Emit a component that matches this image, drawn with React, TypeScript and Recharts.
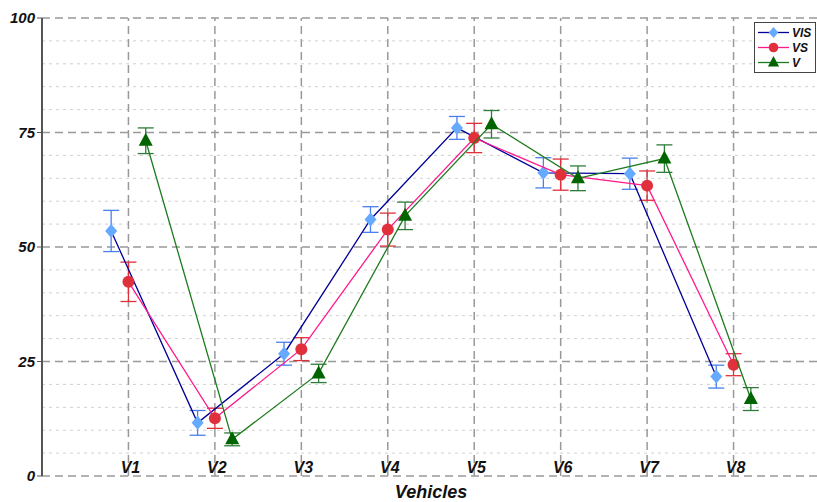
import React from 'react';
import { ComposedChart, Scatter, XAxis, YAxis, ErrorBar, ReferenceLine } from 'recharts';

const categories = ['V1', 'V2', 'V3', 'V4', 'V5', 'V6', 'V7', 'V8'];
const yTicks = [0, 25, 50, 75, 100];
const yMinor = [5, 10, 15, 20, 30, 35, 40, 45, 55, 60, 65, 70, 80, 85, 90, 95];

const visMean = [53.5, 11.6, 26.7, 56, 76, 66.2, 66, 21.7];
const visErr = [4.5, 2.7, 2.5, 2.8, 2.5, 3.3, 3.4, 2.5];
const vsMean = [42.4, 12.6, 27.7, 53.8, 73.8, 65.8, 63.4, 24.3];
const vsErr = [4.3, 2.2, 2.5, 3.6, 3.2, 3.4, 3.2, 2.4];
const vMean = [73.2, 8, 22.4, 56.8, 76.8, 65, 69.3, 16.8];
const vErr = [2.8, 1.4, 2, 3, 3, 2.7, 3, 2.5];

const FONT = '"Liberation Sans", Arial, sans-serif';

const build = (mean: number[], err: number[], shift: number) =>
  mean.map((y, i) => ({ x: i + 1 + shift, y, err: err[i] }));

const visData = build(visMean, visErr, -0.2);
const vsData = build(vsMean, vsErr, 0);
const vData = build(vMean, vErr, 0.2);

const Diamond = ({ cx, cy, fill }: any) => (
  <path d={`M${cx},${cy - 7} L${cx + 6},${cy} L${cx},${cy + 7} L${cx - 6},${cy} Z`} fill={fill} />
);
const Dot = ({ cx, cy, fill }: any) => <circle cx={cx} cy={cy} r={6} fill={fill} />;
const Tri = ({ cx, cy, fill }: any) => (
  <path d={`M${cx},${cy - 8} L${cx + 7},${cy + 5} L${cx - 7},${cy + 5} Z`} fill={fill} />
);

const series = [
  { name: 'VIS', line: '#000099', fill: '#66aaff', err: '#4a7ff0', shape: Diamond },
  { name: 'VS', line: '#ff1a8c', fill: '#e0303c', err: '#e0303c', shape: Dot },
  { name: 'V', line: '#1e7b1e', fill: '#006400', err: '#2e7d3a', shape: Tri },
];

const XTick = ({ x, y, payload }: any) => (
  <text x={x + 2} y={y - 3} textAnchor="middle" fontFamily={FONT} fontSize={16} fontWeight="bold" fontStyle="italic" fill="#111">
    {categories[payload.value - 1]}
  </text>
);

const LegendBox = () => (
  <div style={{ position: 'absolute', top: 22, left: 754, border: '1px solid #444', background: '#fff', width: 60, padding: '2px 0', fontFamily: FONT, fontSize: 12, fontWeight: 'bold', fontStyle: 'italic' }}>
    {series.map((s) => {
      const Shape = s.shape;
      return (
        <div key={s.name} style={{ display: 'flex', alignItems: 'center', height: 15 }}>
          <svg width={36} height={15} style={{ display: 'block' }}>
            <line x1={3} y1={7.5} x2={34} y2={7.5} stroke={s.line} strokeWidth={1.3} />
            <g transform="translate(18.5,7.5) scale(0.8)">
              <Shape cx={0} cy={0} fill={s.fill} />
            </g>
          </svg>
          <span style={{ color: '#111', marginLeft: 1 }}>{s.name}</span>
        </div>
      );
    })}
  </div>
);

export default function App() {
  const dataSets = [visData, vsData, vData];
  return (
    <div style={{ position: 'absolute', left: 0, top: 0, width: 817, height: 502, overflow: 'hidden', background: '#fff' }}>
      <ComposedChart width={820} height={502} margin={{ top: 18, right: 0, bottom: 0, left: 0 }}>
        <XAxis
          type="number"
          dataKey="x"
          domain={[0, 9]}
          ticks={[1, 2, 3, 4, 5, 6, 7, 8]}
          axisLine={false}
          tickLine={false}
          tickSize={0}
          tickMargin={0}
          height={26}
          tick={<XTick />}
          label={{ value: 'Vehicles', position: 'insideBottom', offset: 4, style: { fontFamily: FONT, fontSize: 18, fontWeight: 'bold', fontStyle: 'italic', fill: '#111' } }}
        />
        <YAxis
          type="number"
          dataKey="y"
          domain={[0, 100]}
          ticks={yTicks}
          width={42}
          axisLine={{ stroke: '#555', strokeWidth: 2 }}
          tickLine={{ stroke: '#555' }}
          tickSize={5}
          tick={{ fontFamily: FONT, fontSize: 15, fontWeight: 'bold', fontStyle: 'italic', fill: '#111' }}
        />
        {yMinor.map((v) => (
          <ReferenceLine key={`m${v}`} y={v} stroke="#d0d0d0" strokeDasharray="3 4" />
        ))}
        {yTicks.map((v) => (
          <ReferenceLine key={`M${v}`} y={v} stroke="#999" strokeWidth={1.5} strokeDasharray="8 5" />
        ))}
        {categories.map((c, i) => (
          <ReferenceLine key={c} x={i + 1} stroke="#999" strokeWidth={1.5} strokeDasharray="8 5" />
        ))}
        {series.map((s, k) => (
          <Scatter
            key={s.name}
            name={s.name}
            data={dataSets[k]}
            fill={s.fill}
            line={{ stroke: s.line, strokeWidth: 1.3 }}
            lineType="joint"
            shape={s.shape}
            isAnimationActive={false}
          >
            <ErrorBar dataKey="err" direction="y" width={8} stroke={s.err} strokeWidth={1.3} />
          </Scatter>
        ))}
      </ComposedChart>
      <LegendBox />
    </div>
  );
}
